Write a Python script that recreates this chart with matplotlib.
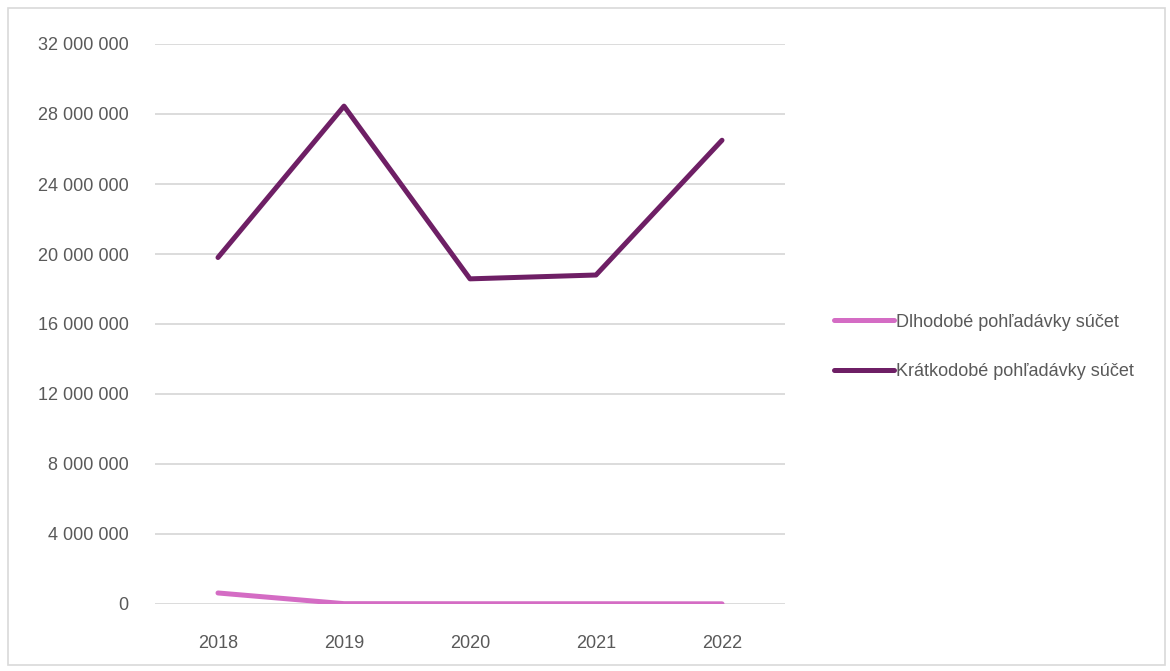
import matplotlib
matplotlib.use("Agg")
import matplotlib.pyplot as plt
from matplotlib.ticker import FuncFormatter, MultipleLocator
from matplotlib.patches import Rectangle

years = ["2018", "2019", "2020", "2021", "2022"]
dlhodobe = [630000, 20000, 15000, 15000, 10000]
kratkodobe = [19800000, 28450000, 18580000, 18800000, 26500000]
labels = ["Dlhodobé pohľadávky súčet", "Krátkodobé pohľadávky súčet"]
colors = ["#D46CC4", "#6E1F65"]

plt.rcParams['font.family'] = ['Liberation Sans', 'DejaVu Sans']

fig = plt.figure(figsize=(11.7, 6.71), dpi=100)
ax = fig.add_axes([155/1170, 67/671, 630/1170, 560/671])

x = range(len(years))
ax.plot(x, dlhodobe, color=colors[0], lw=3.6, solid_capstyle='round',
        solid_joinstyle='round', label=labels[0], zorder=3)
ax.plot(x, kratkodobe, color=colors[1], lw=3.6, solid_capstyle='round',
        solid_joinstyle='round', label=labels[1], zorder=3)

ax.set_xlim(-0.5, 4.5)
ax.set_ylim(0, 32000000)
ax.set_xticks(list(x))
ax.set_xticklabels(years)
ax.yaxis.set_major_locator(MultipleLocator(4000000))
ax.yaxis.set_major_formatter(FuncFormatter(lambda v, p: f"{v:,.0f}".replace(",", " ")))
ax.grid(axis='y', color='#D9D9D9', lw=1.3)
ax.set_axisbelow(True)
for s in ax.spines.values():
    s.set_visible(False)
ax.tick_params(length=0, labelsize=13, colors='#595959')
ax.tick_params(axis='y', pad=19)
ax.tick_params(axis='x', pad=22)

fig.legend(loc='center left', bbox_to_anchor=(818/1170, 1 - 347/671),
           frameon=False, fontsize=13, labelcolor='#595959',
           handlelength=3.3, handletextpad=0.1, labelspacing=1.8)

fig.patches.append(Rectangle((8/1170, 6/671), 1157/1170, 657/671,
                             transform=fig.transFigure, fill=False,
                             edgecolor='#D9D9D9', lw=1.2))

fig.savefig("out.png", dpi=100, facecolor='white')
